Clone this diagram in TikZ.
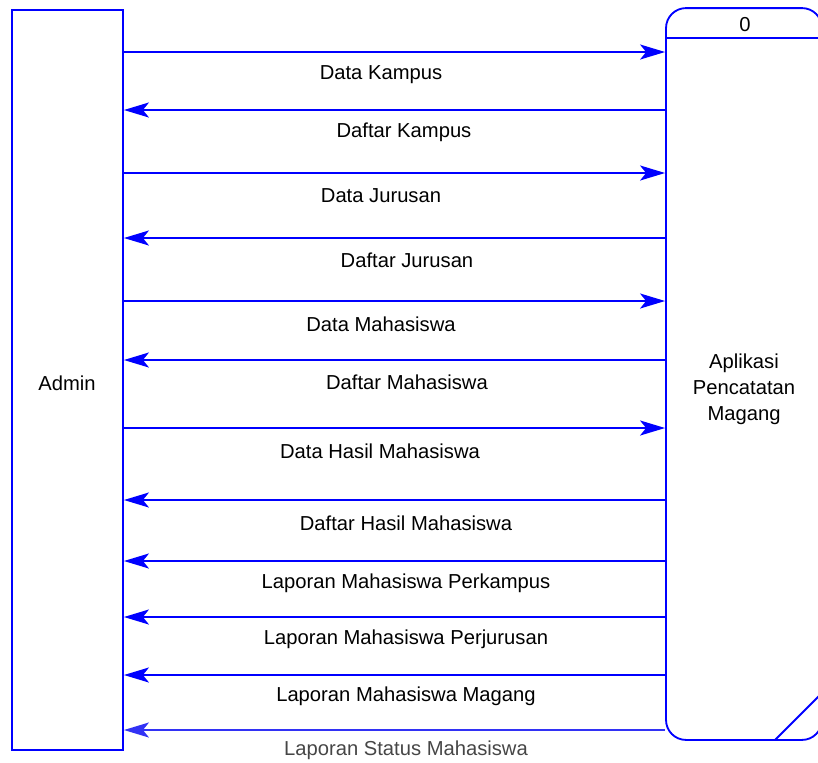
\documentclass[tikz,border=0pt]{standalone}
\usepackage{fontspec}
\setmainfont{Liberation Sans}
\usetikzlibrary{arrows.meta}

\definecolor{dfdblue}{RGB}{0,0,255}
\definecolor{dfdfade}{RGB}{50,50,245}
\definecolor{labgray}{RGB}{70,70,70}

\tikzset{
  entity/.style={draw=dfdblue, line width=1.05pt, minimum width=2.22cm, minimum height=14.8cm, inner sep=0pt},
  process/.style={draw=dfdblue, line width=1.05pt, rounded corners=0.4cm, minimum width=3.12cm, minimum height=14.64cm, inner sep=0pt},
  flow/.style={draw=dfdblue, line width=1.05pt, -{Stealth[length=0.5cm, width=0.3cm, inset=0.12cm]}},
  flowlabel/.style={font=\fontsize{11.5}{13}\selectfont, inner sep=0pt, yshift=-0.05cm}
}

\begin{document}
\begin{tikzpicture}[x=0.02cm, y=-0.02cm]
          \useasboundingbox (0,0) rectangle (818,762);
          \clip (0,0) rectangle (818,762);
          \node[entity] (admin) at (67.5,380) {};
          \node[flowlabel] (adminlabel) at (67,381) {Admin};
          \node[process] (proc) at (744,374) {};
          \node[flowlabel] (procid) at (745,22) {0};
          \node[flowlabel, align=center, font=\fontsize{11.5}{14.8pt}\selectfont] (proclabel) at (744,387) {Aplikasi\\Pencatatan\\Magang};
          \draw[dfdblue, line width=1.05pt] (proc.west |- 0,38) -- (proc.east |- 0,38);
          \coordinate (slashA) at (775,740);
          \coordinate (slashB) at (822,693);
          \draw[dfdblue, line width=1.05pt] (slashA) -- (slashB);
          % flows to the process
          \foreach \y in {52,173,301,428}
            \draw[flow] (admin.east |- 0,\y) -- (proc.west |- 0,\y);
          % flows back to admin
          \foreach \y in {110,238,360,500,561,617,675}
            \draw[flow] (proc.west |- 0,\y) -- (admin.east |- 0,\y);
          \draw[flow, draw=dfdfade] (proc.west |- 0,730) -- (admin.east |- 0,730);
          \node[flowlabel] (l1) at (381,72) {Data Kampus};
          \node[flowlabel] (l2) at (404,130) {Daftar Kampus};
          \node[flowlabel] (l3) at (381,193) {Data Jurusan};
          \node[flowlabel] (l4) at (407,258) {Daftar Jurusan};
          \node[flowlabel] (l5) at (381,322) {Data Mahasiswa};
          \node[flowlabel] (l6) at (407,380) {Daftar Mahasiswa};
          \node[flowlabel] (l7) at (380,449) {Data Hasil Mahasiswa};
          \node[flowlabel] (l8) at (406,521) {Daftar Hasil Mahasiswa};
          \node[flowlabel] (l9) at (406,581) {Laporan Mahasiswa Perkampus};
          \node[flowlabel] (l10) at (406,637) {Laporan Mahasiswa Perjurusan};
          \node[flowlabel] (l11) at (406,694) {Laporan Mahasiswa Magang};
          \node[flowlabel, text=labgray] (l12) at (406,748) {Laporan Status Mahasiswa};
        \end{tikzpicture}
\end{document}
